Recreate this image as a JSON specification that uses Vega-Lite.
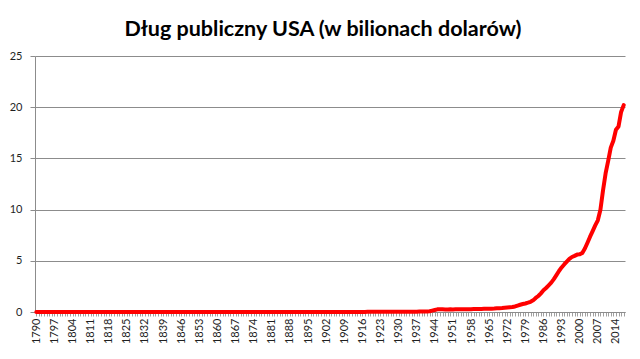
{
  "$schema": "https://vega.github.io/schema/vega-lite/v6.json",
  "autosize": "none",
  "width": 590,
  "height": 256,
  "padding": {"left": 35, "top": 56, "right": 15, "bottom": 47},
  "background": "white",
  "title": {
    "text": "Dług publiczny USA (w bilionach dolarów)",
    "font": "Lato",
    "fontSize": 21.5,
    "fontWeight": "bold",
    "color": "#000000",
    "anchor": "middle",
    "baseline": "alphabetic",
    "offset": -7,
    "dx": -7
  },
  "config": {
    "view": {"stroke": null},
    "font": "Lato"
  },
  "data": {
    "values": [
      {"year": 1790, "debt": 0.0001}, {"year": 1791, "debt": 0.0001}, {"year": 1792, "debt": 0.0001}, {"year": 1793, "debt": 0.0001},
      {"year": 1794, "debt": 0.0001}, {"year": 1795, "debt": 0.0001}, {"year": 1796, "debt": 0.0001}, {"year": 1797, "debt": 0.0001},
      {"year": 1798, "debt": 0.0001}, {"year": 1799, "debt": 0.0001}, {"year": 1800, "debt": 0.0001}, {"year": 1801, "debt": 0.0001},
      {"year": 1802, "debt": 0.0001}, {"year": 1803, "debt": 0.0001}, {"year": 1804, "debt": 0.0001}, {"year": 1805, "debt": 0.0001},
      {"year": 1806, "debt": 0.0001}, {"year": 1807, "debt": 0.0001}, {"year": 1808, "debt": 0.0001}, {"year": 1809, "debt": 0.0001},
      {"year": 1810, "debt": 0.0001}, {"year": 1811, "debt": 0.0000}, {"year": 1812, "debt": 0.0001}, {"year": 1813, "debt": 0.0001},
      {"year": 1814, "debt": 0.0001}, {"year": 1815, "debt": 0.0001}, {"year": 1816, "debt": 0.0001}, {"year": 1817, "debt": 0.0001},
      {"year": 1818, "debt": 0.0001}, {"year": 1819, "debt": 0.0001}, {"year": 1820, "debt": 0.0001}, {"year": 1821, "debt": 0.0001},
      {"year": 1822, "debt": 0.0001}, {"year": 1823, "debt": 0.0001}, {"year": 1824, "debt": 0.0001}, {"year": 1825, "debt": 0.0001},
      {"year": 1826, "debt": 0.0001}, {"year": 1827, "debt": 0.0001}, {"year": 1828, "debt": 0.0001}, {"year": 1829, "debt": 0.0001},
      {"year": 1830, "debt": 0.0000}, {"year": 1831, "debt": 0.0000}, {"year": 1832, "debt": 0.0000}, {"year": 1833, "debt": 0.0000},
      {"year": 1834, "debt": 0.0000}, {"year": 1835, "debt": 0.0000}, {"year": 1836, "debt": 0.0000}, {"year": 1837, "debt": 0.0000},
      {"year": 1838, "debt": 0.0000}, {"year": 1839, "debt": 0.0000}, {"year": 1840, "debt": 0.0000}, {"year": 1841, "debt": 0.0000},
      {"year": 1842, "debt": 0.0000}, {"year": 1843, "debt": 0.0000}, {"year": 1844, "debt": 0.0000}, {"year": 1845, "debt": 0.0000},
      {"year": 1846, "debt": 0.0000}, {"year": 1847, "debt": 0.0000}, {"year": 1848, "debt": 0.0001}, {"year": 1849, "debt": 0.0001},
      {"year": 1850, "debt": 0.0001}, {"year": 1851, "debt": 0.0001}, {"year": 1852, "debt": 0.0001}, {"year": 1853, "debt": 0.0001},
      {"year": 1854, "debt": 0.0000}, {"year": 1855, "debt": 0.0000}, {"year": 1856, "debt": 0.0000}, {"year": 1857, "debt": 0.0000},
      {"year": 1858, "debt": 0.0000}, {"year": 1859, "debt": 0.0001}, {"year": 1860, "debt": 0.0001}, {"year": 1861, "debt": 0.0001},
      {"year": 1862, "debt": 0.0005}, {"year": 1863, "debt": 0.0011}, {"year": 1864, "debt": 0.0018}, {"year": 1865, "debt": 0.0027},
      {"year": 1866, "debt": 0.0028}, {"year": 1867, "debt": 0.0027}, {"year": 1868, "debt": 0.0026}, {"year": 1869, "debt": 0.0026},
      {"year": 1870, "debt": 0.0024}, {"year": 1871, "debt": 0.0023}, {"year": 1872, "debt": 0.0023}, {"year": 1873, "debt": 0.0022},
      {"year": 1874, "debt": 0.0023}, {"year": 1875, "debt": 0.0022}, {"year": 1876, "debt": 0.0022}, {"year": 1877, "debt": 0.0021},
      {"year": 1878, "debt": 0.0022}, {"year": 1879, "debt": 0.0023}, {"year": 1880, "debt": 0.0021}, {"year": 1881, "debt": 0.0020},
      {"year": 1882, "debt": 0.0018}, {"year": 1883, "debt": 0.0016}, {"year": 1884, "debt": 0.0015}, {"year": 1885, "debt": 0.0015},
      {"year": 1886, "debt": 0.0014}, {"year": 1887, "debt": 0.0013}, {"year": 1888, "debt": 0.0012}, {"year": 1889, "debt": 0.0012},
      {"year": 1890, "debt": 0.0011}, {"year": 1891, "debt": 0.0010}, {"year": 1892, "debt": 0.0010}, {"year": 1893, "debt": 0.0010},
      {"year": 1894, "debt": 0.0010}, {"year": 1895, "debt": 0.0011}, {"year": 1896, "debt": 0.0012}, {"year": 1897, "debt": 0.0012},
      {"year": 1898, "debt": 0.0012}, {"year": 1899, "debt": 0.0014}, {"year": 1900, "debt": 0.0013}, {"year": 1901, "debt": 0.0012},
      {"year": 1902, "debt": 0.0012}, {"year": 1903, "debt": 0.0012}, {"year": 1904, "debt": 0.0012}, {"year": 1905, "debt": 0.0012},
      {"year": 1906, "debt": 0.0011}, {"year": 1907, "debt": 0.0011}, {"year": 1908, "debt": 0.0012}, {"year": 1909, "debt": 0.0012},
      {"year": 1910, "debt": 0.0011}, {"year": 1911, "debt": 0.0012}, {"year": 1912, "debt": 0.0012}, {"year": 1913, "debt": 0.0012},
      {"year": 1914, "debt": 0.0012}, {"year": 1915, "debt": 0.0012}, {"year": 1916, "debt": 0.0012}, {"year": 1917, "debt": 0.0030},
      {"year": 1918, "debt": 0.0125}, {"year": 1919, "debt": 0.0255}, {"year": 1920, "debt": 0.0243}, {"year": 1921, "debt": 0.0240},
      {"year": 1922, "debt": 0.0230}, {"year": 1923, "debt": 0.0223}, {"year": 1924, "debt": 0.0213}, {"year": 1925, "debt": 0.0205},
      {"year": 1926, "debt": 0.0195}, {"year": 1927, "debt": 0.0185}, {"year": 1928, "debt": 0.0176}, {"year": 1929, "debt": 0.0169},
      {"year": 1930, "debt": 0.0162}, {"year": 1931, "debt": 0.0168}, {"year": 1932, "debt": 0.0195}, {"year": 1933, "debt": 0.0225},
      {"year": 1934, "debt": 0.0271}, {"year": 1935, "debt": 0.0287}, {"year": 1936, "debt": 0.0338}, {"year": 1937, "debt": 0.0364},
      {"year": 1938, "debt": 0.0372}, {"year": 1939, "debt": 0.0404}, {"year": 1940, "debt": 0.0430}, {"year": 1941, "debt": 0.0490},
      {"year": 1942, "debt": 0.0724}, {"year": 1943, "debt": 0.1367}, {"year": 1944, "debt": 0.2010}, {"year": 1945, "debt": 0.2587},
      {"year": 1946, "debt": 0.2694}, {"year": 1947, "debt": 0.2583}, {"year": 1948, "debt": 0.2523}, {"year": 1949, "debt": 0.2528},
      {"year": 1950, "debt": 0.2574}, {"year": 1951, "debt": 0.2552}, {"year": 1952, "debt": 0.2591}, {"year": 1953, "debt": 0.2661},
      {"year": 1954, "debt": 0.2713}, {"year": 1955, "debt": 0.2744}, {"year": 1956, "debt": 0.2727}, {"year": 1957, "debt": 0.2723},
      {"year": 1958, "debt": 0.2797}, {"year": 1959, "debt": 0.2875}, {"year": 1960, "debt": 0.2905}, {"year": 1961, "debt": 0.2926},
      {"year": 1962, "debt": 0.3029}, {"year": 1963, "debt": 0.3103}, {"year": 1964, "debt": 0.3161}, {"year": 1965, "debt": 0.3223},
      {"year": 1966, "debt": 0.3285}, {"year": 1967, "debt": 0.3404}, {"year": 1968, "debt": 0.3687}, {"year": 1969, "debt": 0.3658},
      {"year": 1970, "debt": 0.3809}, {"year": 1971, "debt": 0.4082}, {"year": 1972, "debt": 0.4359}, {"year": 1973, "debt": 0.4663},
      {"year": 1974, "debt": 0.4839}, {"year": 1975, "debt": 0.5419}, {"year": 1976, "debt": 0.6290}, {"year": 1977, "debt": 0.7064},
      {"year": 1978, "debt": 0.7766}, {"year": 1979, "debt": 0.8295}, {"year": 1980, "debt": 0.9090}, {"year": 1981, "debt": 0.9948},
      {"year": 1982, "debt": 1.1373}, {"year": 1983, "debt": 1.3717}, {"year": 1984, "debt": 1.5646}, {"year": 1985, "debt": 1.8174},
      {"year": 1986, "debt": 2.1205}, {"year": 1987, "debt": 2.3460}, {"year": 1988, "debt": 2.6011}, {"year": 1989, "debt": 2.8678},
      {"year": 1990, "debt": 3.2063}, {"year": 1991, "debt": 3.5982}, {"year": 1992, "debt": 4.0018}, {"year": 1993, "debt": 4.3510},
      {"year": 1994, "debt": 4.6433}, {"year": 1995, "debt": 4.9206}, {"year": 1996, "debt": 5.1815}, {"year": 1997, "debt": 5.3692},
      {"year": 1998, "debt": 5.4782}, {"year": 1999, "debt": 5.6055}, {"year": 2000, "debt": 5.6287}, {"year": 2001, "debt": 5.7699},
      {"year": 2002, "debt": 6.1984}, {"year": 2003, "debt": 6.7600}, {"year": 2004, "debt": 7.3547}, {"year": 2005, "debt": 7.9053},
      {"year": 2006, "debt": 8.4514}, {"year": 2007, "debt": 8.9507}, {"year": 2008, "debt": 9.9861}, {"year": 2009, "debt": 11.8759},
      {"year": 2010, "debt": 13.5288}, {"year": 2011, "debt": 14.7642}, {"year": 2012, "debt": 16.0509}, {"year": 2013, "debt": 16.7194},
      {"year": 2014, "debt": 17.7945}, {"year": 2015, "debt": 18.1201}, {"year": 2016, "debt": 19.5395}, {"year": 2017, "debt": 20.2057}
    ]
  },
  "mark": {"type": "line", "color": "#ff0000", "strokeWidth": 4, "strokeJoin": "round", "strokeCap": "round"},
  "encoding": {
    "x": {
      "field": "year",
      "type": "ordinal",
      "scale": {"type": "point", "padding": 0.5},
      "axis": {
        "title": null,
        "labelAngle": -90,
        "labelAlign": "right",
        "labelBaseline": "middle",
        "labelFont": "Lato",
        "labelFontSize": 11,
        "labelColor": "#1f1f1f",
        "labelOverlap": false,
        "labelPadding": 2,
        "labelExpr": "(datum.value - 1790) % 7 == 0 ? datum.label : ''",
        "domainColor": "#8c8c8c",
        "tickColor": "#a0a0a0",
        "tickSize": 4,
        "grid": false
      }
    },
    "y": {
      "field": "debt",
      "type": "quantitative",
      "scale": {"domain": [0, 25], "nice": false},
      "axis": {
        "title": null,
        "values": [0, 5, 10, 15, 20, 25],
        "labelFont": "Lato",
        "labelFontSize": 11,
        "labelColor": "#1f1f1f",
        "labelPadding": 8,
        "domainColor": "#8c8c8c",
        "tickColor": "#8c8c8c",
        "tickSize": 5,
        "grid": true,
        "gridColor": "#8c8c8c",
        "gridWidth": 1
      }
    }
  }
}
